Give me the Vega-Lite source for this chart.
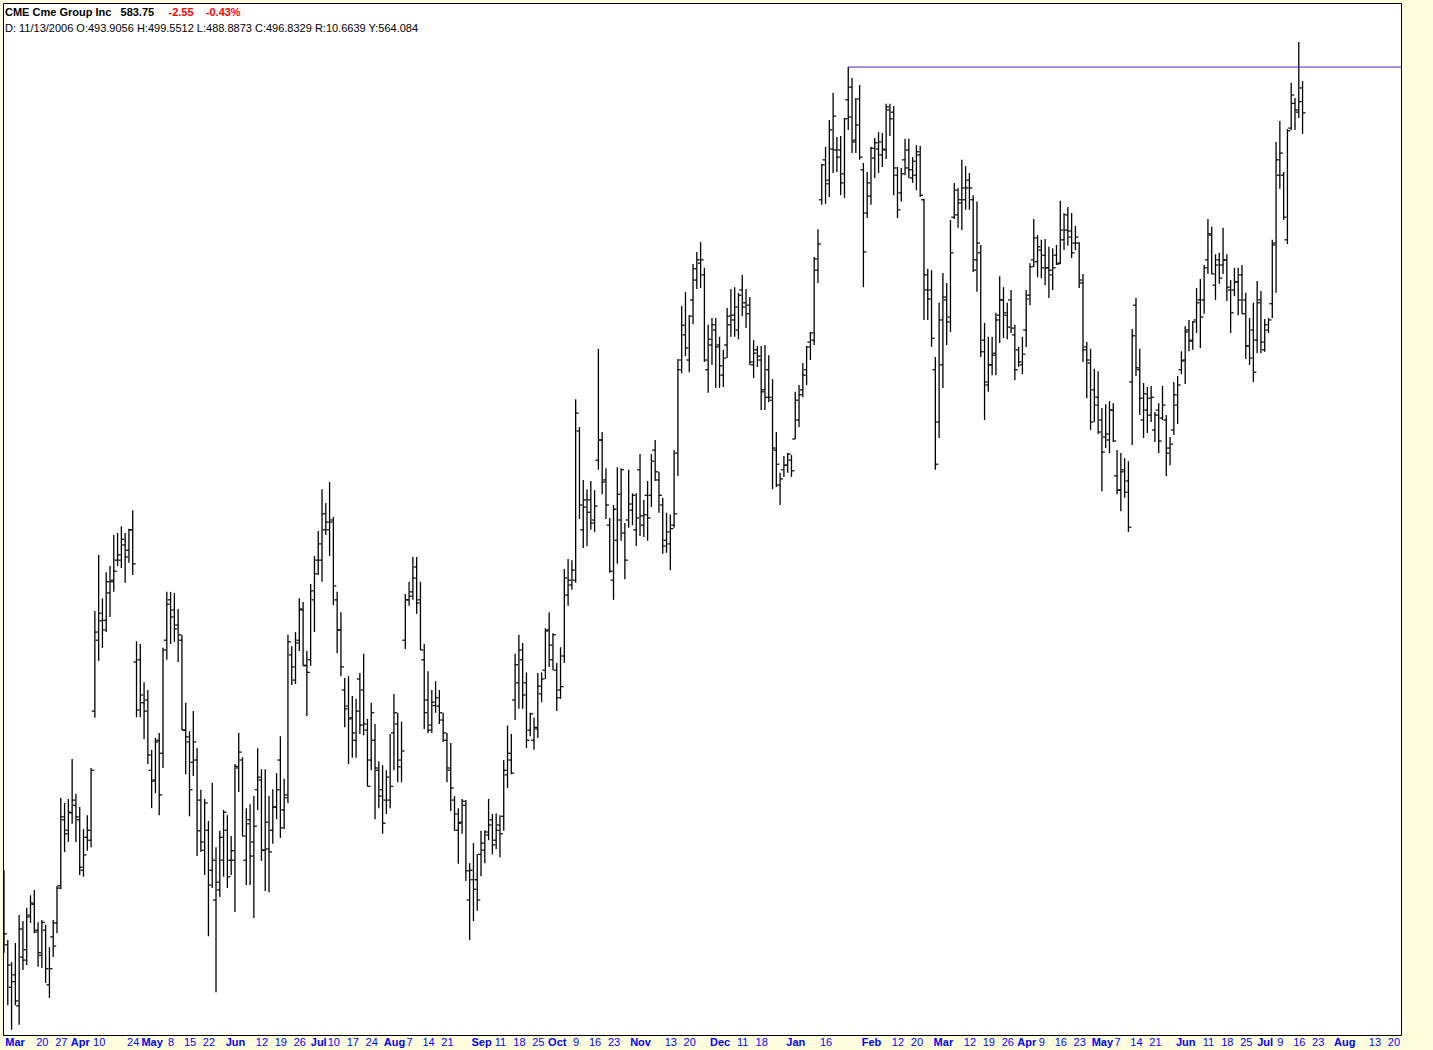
{
"$schema":"https://vega.github.io/schema/vega-lite/v6.json",
"width":1398,"height":1032,
"autosize":{"type":"none"},
"padding":{"left":3,"top":3,"right":32,"bottom":15},
"background":"#FFFFE0",
"view":{"fill":"#FFFFFF","stroke":"#000000","strokeWidth":1},
"title":{"text":"CME Cme Group Inc\u00a0\u00a0\u00a0583.75","subtitle":"D: 11/13/2006 O:493.9056 H:499.5512 L:488.8873 C:496.8329 R:10.6639 Y:564.084","anchor":"start","frame":"group","orient":"top","offset":-31,"dx":2,"font":"Liberation Sans","fontSize":11,"fontWeight":"bold","color":"#000000","subtitleFont":"Liberation Sans","subtitleFontSize":11,"subtitleColor":"#000000","subtitlePadding":5},
"datasets":{
"level":[{"start":224,"end":370,"level":594.2}],
"bars":[
{"t":1,"o":430.2,"h":435.2,"l":421.5,"c":424.6},
{"t":2,"o":422.8,"h":423.6,"l":413.0,"c":419.5},
{"t":3,"o":415.9,"h":420.0,"l":409.1,"c":416.8},
{"t":4,"o":417.9,"h":423.1,"l":413.0,"c":413.7},
{"t":5,"o":412.9,"h":427.7,"l":409.9,"c":425.4},
{"t":6,"o":420.8,"h":426.7,"l":418.7,"c":420.3},
{"t":7,"o":422.0,"h":428.9,"l":419.5,"c":427.4},
{"t":8,"o":427.7,"h":431.0,"l":426.4,"c":429.7},
{"t":9,"o":429.5,"h":431.9,"l":424.7,"c":424.9},
{"t":10,"o":425.2,"h":426.5,"l":419.2,"c":421.5},
{"t":11,"o":421.1,"h":426.9,"l":419.0,"c":426.5},
{"t":12,"o":425.2,"h":426.1,"l":416.6,"c":418.9},
{"t":13,"o":416.3,"h":422.4,"l":414.2,"c":418.9},
{"t":14,"o":424.1,"h":426.9,"l":420.8,"c":422.6},
{"t":15,"o":426.4,"h":432.6,"l":424.7,"c":432.2},
{"t":16,"o":432.6,"h":447.6,"l":432.0,"c":444.3},
{"t":17,"o":443.8,"h":446.7,"l":438.3,"c":441.4},
{"t":18,"o":442.0,"h":447.4,"l":440.0,"c":445.1},
{"t":19,"o":445.0,"h":454.4,"l":443.1,"c":447.2},
{"t":20,"o":446.3,"h":448.3,"l":440.0,"c":444.3},
{"t":21,"o":443.8,"h":446.0,"l":434.4,"c":435.7},
{"t":22,"o":435.2,"h":442.2,"l":434.1,"c":437.8},
{"t":23,"o":440.8,"h":444.6,"l":438.5,"c":442.0},
{"t":24,"o":440.3,"h":452.8,"l":439.1,"c":452.4},
{"t":25,"o":462.9,"h":481.2,"l":461.7,"c":477.3},
{"t":26,"o":475.8,"h":491.8,"l":472.0,"c":480.8},
{"t":27,"o":479.4,"h":483.6,"l":474.4,"c":477.7},
{"t":28,"o":479.5,"h":488.5,"l":477.3,"c":486.7},
{"t":29,"o":484.6,"h":489.7,"l":480.1,"c":486.7},
{"t":30,"o":487.0,"h":495.6,"l":484.8,"c":488.7},
{"t":31,"o":490.8,"h":496.0,"l":489.7,"c":491.8},
{"t":32,"o":490.8,"h":497.3,"l":489.3,"c":494.8},
{"t":33,"o":493.7,"h":496.0,"l":486.5,"c":491.4},
{"t":34,"o":492.7,"h":496.8,"l":490.3,"c":496.6},
{"t":35,"o":496.6,"h":500.4,"l":488.0,"c":490.1},
{"t":36,"o":471.8,"h":475.6,"l":461.8,"c":463.1},
{"t":37,"o":472.2,"h":475.1,"l":461.8,"c":465.8},
{"t":38,"o":464.4,"h":468.1,"l":457.9,"c":462.9},
{"t":39,"o":464.9,"h":466.7,"l":453.5,"c":455.1},
{"t":40,"o":452.4,"h":456.0,"l":445.8,"c":450.5},
{"t":41,"o":450.7,"h":458.1,"l":448.4,"c":457.4},
{"t":42,"o":457.7,"h":459.0,"l":444.6,"c":448.1},
{"t":43,"o":455.4,"h":474.4,"l":452.8,"c":474.0},
{"t":44,"o":475.8,"h":484.8,"l":472.2,"c":482.5},
{"t":45,"o":483.3,"h":484.8,"l":475.1,"c":480.1},
{"t":46,"o":481.4,"h":484.6,"l":475.5,"c":477.9},
{"t":47,"o":478.6,"h":481.6,"l":471.8,"c":476.8},
{"t":48,"o":475.8,"h":476.8,"l":459.5,"c":459.5},
{"t":49,"o":459.5,"h":464.4,"l":451.7,"c":458.3},
{"t":50,"o":457.4,"h":459.3,"l":444.4,"c":449.0},
{"t":51,"o":453.8,"h":462.9,"l":451.4,"c":457.4},
{"t":52,"o":454.2,"h":456.3,"l":437.6,"c":441.9},
{"t":53,"o":447.2,"h":449.0,"l":438.3,"c":440.0},
{"t":54,"o":438.6,"h":447.4,"l":434.4,"c":446.7},
{"t":55,"o":442.0,"h":443.6,"l":424.2,"c":432.7},
{"t":56,"o":435.2,"h":450.2,"l":432.2,"c":436.9},
{"t":57,"o":430.2,"h":439.1,"l":415.1,"c":433.2},
{"t":58,"o":431.9,"h":441.9,"l":430.7,"c":440.8},
{"t":59,"o":436.9,"h":445.5,"l":434.1,"c":445.1},
{"t":60,"o":442.0,"h":444.6,"l":432.2,"c":434.1},
{"t":61,"o":436.9,"h":441.0,"l":434.4,"c":438.5},
{"t":62,"o":436.9,"h":453.5,"l":428.2,"c":453.1},
{"t":63,"o":452.8,"h":459.0,"l":448.6,"c":455.6},
{"t":64,"o":454.2,"h":454.7,"l":441.0,"c":441.0},
{"t":65,"o":436.9,"h":445.8,"l":432.7,"c":443.1},
{"t":66,"o":443.8,"h":446.5,"l":432.7,"c":437.6},
{"t":67,"o":440.0,"h":447.9,"l":427.2,"c":442.7},
{"t":68,"o":449.0,"h":456.3,"l":445.5,"c":451.2},
{"t":69,"o":450.7,"h":452.6,"l":436.8,"c":438.6},
{"t":70,"o":438.6,"h":452.6,"l":431.7,"c":443.4},
{"t":71,"o":438.8,"h":447.9,"l":431.5,"c":438.3},
{"t":72,"o":442.0,"h":449.1,"l":439.7,"c":446.0},
{"t":73,"o":446.0,"h":451.9,"l":443.9,"c":449.0},
{"t":74,"o":454.2,"h":458.4,"l":440.7,"c":442.4},
{"t":75,"o":445.5,"h":450.9,"l":442.2,"c":447.6},
{"t":76,"o":448.1,"h":476.8,"l":446.7,"c":475.5},
{"t":77,"o":473.1,"h":474.7,"l":467.6,"c":470.9},
{"t":78,"o":468.5,"h":477.3,"l":467.8,"c":475.3},
{"t":79,"o":475.8,"h":483.6,"l":473.8,"c":481.6},
{"t":80,"o":481.4,"h":482.9,"l":471.1,"c":471.1},
{"t":81,"o":471.2,"h":473.8,"l":462.0,"c":469.9},
{"t":82,"o":472.2,"h":486.3,"l":471.1,"c":485.0},
{"t":83,"o":483.3,"h":491.6,"l":477.3,"c":488.2},
{"t":84,"o":490.8,"h":496.4,"l":488.0,"c":493.9},
{"t":85,"o":490.8,"h":504.5,"l":486.7,"c":499.7},
{"t":86,"o":496.6,"h":501.8,"l":495.6,"c":498.1},
{"t":87,"o":496.6,"h":505.9,"l":491.6,"c":498.1},
{"t":88,"o":498.5,"h":499.1,"l":482.3,"c":485.9},
{"t":89,"o":483.3,"h":484.8,"l":473.4,"c":477.7},
{"t":90,"o":477.7,"h":481.0,"l":469.2,"c":470.9},
{"t":91,"o":466.7,"h":468.9,"l":460.0,"c":463.3},
{"t":92,"o":463.8,"h":469.2,"l":453.5,"c":461.5},
{"t":93,"o":461.7,"h":465.6,"l":454.6,"c":459.0},
{"t":94,"o":457.7,"h":465.1,"l":454.6,"c":462.9},
{"t":95,"o":468.7,"h":469.8,"l":458.8,"c":460.4},
{"t":96,"o":466.7,"h":473.3,"l":458.6,"c":460.6},
{"t":97,"o":459.5,"h":461.5,"l":449.6,"c":449.6},
{"t":98,"o":454.2,"h":464.4,"l":452.4,"c":462.6},
{"t":99,"o":457.7,"h":460.6,"l":443.9,"c":452.8},
{"t":100,"o":452.4,"h":454.0,"l":445.8,"c":447.9},
{"t":101,"o":449.0,"h":453.3,"l":441.4,"c":443.2},
{"t":102,"o":447.2,"h":452.4,"l":444.8,"c":451.2},
{"t":103,"o":447.2,"h":458.8,"l":445.8,"c":449.6},
{"t":104,"o":459.0,"h":466.0,"l":452.4,"c":462.6},
{"t":105,"o":460.6,"h":462.6,"l":450.3,"c":453.0},
{"t":106,"o":454.2,"h":461.0,"l":450.3,"c":455.8},
{"t":107,"o":475.8,"h":484.4,"l":474.2,"c":483.3},
{"t":108,"o":483.3,"h":486.7,"l":482.2,"c":484.0},
{"t":109,"o":484.8,"h":491.4,"l":483.3,"c":487.4},
{"t":110,"o":489.5,"h":491.4,"l":480.7,"c":482.7},
{"t":111,"o":483.3,"h":486.7,"l":474.0,"c":474.0},
{"t":112,"o":472.2,"h":475.1,"l":459.7,"c":462.6},
{"t":113,"o":464.9,"h":470.1,"l":459.0,"c":459.5},
{"t":114,"o":460.4,"h":466.7,"l":459.0,"c":464.5},
{"t":115,"o":463.9,"h":468.3,"l":462.6,"c":465.3},
{"t":116,"o":463.8,"h":466.7,"l":460.6,"c":462.6},
{"t":117,"o":461.3,"h":462.6,"l":457.4,"c":459.0},
{"t":118,"o":457.7,"h":459.0,"l":450.3,"c":452.8},
{"t":119,"o":452.4,"h":457.2,"l":445.3,"c":449.3},
{"t":120,"o":447.2,"h":447.9,"l":441.9,"c":444.8},
{"t":121,"o":442.0,"h":445.8,"l":436.3,"c":443.2},
{"t":122,"o":443.4,"h":447.4,"l":441.4,"c":447.0},
{"t":123,"o":446.3,"h":447.2,"l":433.4,"c":435.1},
{"t":124,"o":430.2,"h":436.4,"l":423.6,"c":435.2},
{"t":125,"o":433.6,"h":439.8,"l":426.7,"c":432.0},
{"t":126,"o":433.6,"h":437.9,"l":428.4,"c":430.2},
{"t":127,"o":437.9,"h":441.9,"l":434.2,"c":439.8},
{"t":128,"o":438.6,"h":442.0,"l":436.4,"c":441.7},
{"t":129,"o":441.2,"h":447.4,"l":440.3,"c":442.9},
{"t":130,"o":443.8,"h":444.8,"l":437.9,"c":439.5},
{"t":131,"o":440.3,"h":444.9,"l":438.8,"c":442.0},
{"t":132,"o":442.9,"h":444.6,"l":437.4,"c":441.4},
{"t":133,"o":444.4,"h":454.2,"l":441.9,"c":452.4},
{"t":134,"o":451.6,"h":460.3,"l":449.3,"c":455.4},
{"t":135,"o":454.2,"h":458.8,"l":451.7,"c":451.9},
{"t":136,"o":464.9,"h":473.3,"l":461.3,"c":471.3},
{"t":137,"o":468.0,"h":476.8,"l":463.3,"c":474.0},
{"t":138,"o":472.2,"h":475.3,"l":463.3,"c":465.8},
{"t":139,"o":468.0,"h":469.9,"l":456.3,"c":457.7},
{"t":140,"o":459.5,"h":462.6,"l":458.4,"c":462.4},
{"t":141,"o":457.7,"h":461.7,"l":456.0,"c":460.0},
{"t":142,"o":459.7,"h":469.8,"l":458.1,"c":467.4},
{"t":143,"o":466.0,"h":469.9,"l":464.5,"c":468.7},
{"t":144,"o":470.3,"h":478.0,"l":468.7,"c":477.5},
{"t":145,"o":477.7,"h":481.0,"l":470.9,"c":474.9},
{"t":146,"o":472.2,"h":477.1,"l":470.3,"c":476.8},
{"t":147,"o":470.3,"h":471.6,"l":462.9,"c":465.3},
{"t":148,"o":466.7,"h":474.5,"l":465.1,"c":467.3},
{"t":149,"o":472.9,"h":489.1,"l":471.6,"c":487.4},
{"t":150,"o":484.2,"h":491.0,"l":482.2,"c":487.0},
{"t":151,"o":486.1,"h":490.8,"l":485.2,"c":488.9},
{"t":152,"o":487.0,"h":522.4,"l":486.5,"c":519.6},
{"t":153,"o":516.0,"h":516.8,"l":498.7,"c":501.4},
{"t":154,"o":496.6,"h":506.3,"l":493.1,"c":501.0},
{"t":155,"o":502.4,"h":504.5,"l":493.5,"c":500.0},
{"t":156,"o":502.4,"h":506.1,"l":496.6,"c":497.9},
{"t":157,"o":498.5,"h":504.3,"l":496.2,"c":501.2},
{"t":158,"o":510.2,"h":532.7,"l":508.3,"c":514.2},
{"t":159,"o":514.2,"h":515.8,"l":503.5,"c":505.9},
{"t":160,"o":506.3,"h":508.6,"l":498.7,"c":501.4},
{"t":161,"o":497.5,"h":498.9,"l":488.4,"c":488.7},
{"t":162,"o":487.0,"h":501.4,"l":483.3,"c":500.6},
{"t":163,"o":494.6,"h":508.8,"l":490.1,"c":503.5},
{"t":164,"o":498.5,"h":508.6,"l":494.5,"c":508.3},
{"t":165,"o":496.0,"h":497.9,"l":487.2,"c":490.8},
{"t":166,"o":498.5,"h":508.3,"l":497.0,"c":501.6},
{"t":167,"o":500.4,"h":503.7,"l":497.5,"c":503.3},
{"t":168,"o":496.6,"h":503.7,"l":493.5,"c":498.9},
{"t":169,"o":508.3,"h":511.4,"l":495.4,"c":499.3},
{"t":170,"o":497.5,"h":502.4,"l":495.2,"c":499.5},
{"t":171,"o":503.3,"h":506.1,"l":494.5,"c":498.9},
{"t":172,"o":503.3,"h":511.4,"l":501.0,"c":510.0},
{"t":173,"o":512.2,"h":514.2,"l":506.1,"c":507.9},
{"t":174,"o":506.3,"h":507.9,"l":499.9,"c":503.3},
{"t":175,"o":501.4,"h":502.8,"l":492.0,"c":493.5},
{"t":176,"o":494.6,"h":499.9,"l":492.2,"c":496.2},
{"t":177,"o":493.9056,"h":499.5512,"l":488.8873,"c":496.8329},
{"t":178,"o":497.5,"h":512.2,"l":497.0,"c":499.7},
{"t":179,"o":511.6,"h":530.6,"l":507.1,"c":528.4},
{"t":180,"o":530.4,"h":541.6,"l":527.7,"c":537.6},
{"t":181,"o":535.6,"h":544.6,"l":531.2,"c":532.9},
{"t":182,"o":530.4,"h":539.7,"l":527.9,"c":539.5},
{"t":183,"o":542.9,"h":550.5,"l":537.8,"c":549.5},
{"t":184,"o":547.1,"h":553.1,"l":545.2,"c":551.4},
{"t":185,"o":550.7,"h":555.2,"l":545.4,"c":551.4},
{"t":186,"o":548.2,"h":549.7,"l":530.0,"c":530.4},
{"t":187,"o":528.4,"h":537.7,"l":523.7,"c":534.7},
{"t":188,"o":533.5,"h":539.1,"l":529.4,"c":537.7},
{"t":189,"o":536.6,"h":539.1,"l":524.7,"c":533.1},
{"t":190,"o":533.5,"h":535.2,"l":524.7,"c":529.2},
{"t":191,"o":527.3,"h":532.5,"l":524.9,"c":530.8},
{"t":192,"o":533.5,"h":541.2,"l":530.8,"c":539.5},
{"t":193,"o":537.7,"h":545.2,"l":535.2,"c":539.7},
{"t":194,"o":538.7,"h":545.6,"l":535.2,"c":541.4},
{"t":195,"o":536.6,"h":544.4,"l":534.7,"c":543.9},
{"t":196,"o":545.0,"h":548.2,"l":539.5,"c":541.4},
{"t":197,"o":542.3,"h":545.2,"l":537.0,"c":540.0},
{"t":198,"o":541.8,"h":543.5,"l":529.4,"c":530.0},
{"t":199,"o":529.4,"h":534.5,"l":526.7,"c":531.8},
{"t":200,"o":532.5,"h":533.3,"l":529.0,"c":531.2},
{"t":201,"o":530.4,"h":533.3,"l":520.2,"c":523.9},
{"t":202,"o":524.3,"h":533.5,"l":520.2,"c":522.8},
{"t":203,"o":528.4,"h":531.4,"l":521.8,"c":522.8},
{"t":204,"o":522.2,"h":526.5,"l":504.5,"c":512.6},
{"t":205,"o":512.2,"h":515.8,"l":504.9,"c":509.4},
{"t":206,"o":505.3,"h":507.7,"l":501.4,"c":506.5},
{"t":207,"o":508.3,"h":511.0,"l":506.9,"c":509.2},
{"t":208,"o":509.2,"h":511.6,"l":507.7,"c":511.4},
{"t":209,"o":510.2,"h":511.2,"l":506.9,"c":508.1},
{"t":210,"o":514.4,"h":523.9,"l":514.4,"c":522.2},
{"t":211,"o":518.2,"h":525.3,"l":516.8,"c":523.3},
{"t":212,"o":524.3,"h":529.8,"l":522.8,"c":527.3},
{"t":213,"o":528.4,"h":533.3,"l":525.3,"c":533.1},
{"t":214,"o":534.1,"h":536.2,"l":530.4,"c":536.0},
{"t":215,"o":534.5,"h":552.0,"l":533.5,"c":551.6},
{"t":216,"o":549.2,"h":558.0,"l":546.5,"c":554.8},
{"t":217,"o":564.4,"h":572.3,"l":563.3,"c":572.1},
{"t":218,"o":573.2,"h":576.1,"l":563.5,"c":567.9},
{"t":219,"o":568.7,"h":582.1,"l":565.0,"c":579.9},
{"t":220,"o":575.6,"h":588.3,"l":570.3,"c":583.0},
{"t":221,"o":575.4,"h":578.3,"l":570.5,"c":573.8},
{"t":222,"o":575.4,"h":578.5,"l":565.4,"c":568.1},
{"t":223,"o":570.1,"h":582.6,"l":564.8,"c":582.4},
{"t":224,"o":586.7,"h":594.2,"l":579.9,"c":582.8},
{"t":225,"o":589.6,"h":591.7,"l":574.7,"c":577.2},
{"t":226,"o":577.6,"h":587.1,"l":574.7,"c":581.0},
{"t":227,"o":586.9,"h":590.1,"l":573.2,"c":573.8},
{"t":228,"o":571.0,"h":572.5,"l":545.6,"c":553.1},
{"t":229,"o":561.5,"h":570.5,"l":560.4,"c":568.1},
{"t":230,"o":565.2,"h":576.1,"l":563.3,"c":575.8},
{"t":231,"o":573.6,"h":578.1,"l":569.2,"c":577.0},
{"t":232,"o":575.6,"h":579.4,"l":570.3,"c":577.2},
{"t":233,"o":574.3,"h":579.2,"l":571.6,"c":575.6},
{"t":234,"o":575.4,"h":585.8,"l":573.4,"c":585.1},
{"t":235,"o":584.4,"h":585.8,"l":578.5,"c":582.4},
{"t":236,"o":583.9,"h":585.3,"l":565.4,"c":571.4},
{"t":237,"o":569.8,"h":571.6,"l":560.4,"c":562.2},
{"t":238,"o":565.9,"h":571.4,"l":564.0,"c":570.1},
{"t":239,"o":573.2,"h":577.9,"l":569.8,"c":571.4},
{"t":240,"o":575.4,"h":577.9,"l":569.2,"c":571.0},
{"t":241,"o":569.2,"h":573.8,"l":568.1,"c":572.9},
{"t":242,"o":569.8,"h":576.5,"l":566.5,"c":575.0},
{"t":243,"o":574.3,"h":576.3,"l":565.0,"c":565.4},
{"t":244,"o":564.4,"h":564.6,"l":538.7,"c":548.2},
{"t":245,"o":545.0,"h":549.5,"l":538.7,"c":543.1},
{"t":246,"o":545.0,"h":549.2,"l":533.1,"c":534.9},
{"t":247,"o":528.4,"h":531.0,"l":508.3,"c":509.4},
{"t":248,"o":517.8,"h":542.3,"l":514.6,"c":538.7},
{"t":249,"o":529.4,"h":548.6,"l":524.7,"c":543.5},
{"t":250,"o":542.9,"h":546.5,"l":533.5,"c":538.3},
{"t":251,"o":539.3,"h":560.0,"l":536.2,"c":552.9},
{"t":252,"o":560.6,"h":568.1,"l":560.2,"c":566.5},
{"t":253,"o":561.1,"h":567.0,"l":558.3,"c":563.7},
{"t":254,"o":564.4,"h":573.2,"l":557.8,"c":567.0},
{"t":255,"o":564.4,"h":571.8,"l":562.2,"c":567.0},
{"t":256,"o":568.7,"h":570.3,"l":562.2,"c":567.0},
{"t":257,"o":564.4,"h":565.4,"l":548.8,"c":549.2},
{"t":258,"o":551.4,"h":564.0,"l":544.6,"c":555.0},
{"t":259,"o":552.9,"h":554.6,"l":531.0,"c":532.1},
{"t":260,"o":534.5,"h":538.1,"l":518.2,"c":525.9},
{"t":261,"o":525.3,"h":535.2,"l":523.9,"c":529.4},
{"t":262,"o":529.4,"h":535.2,"l":527.3,"c":531.4},
{"t":263,"o":531.8,"h":540.2,"l":527.3,"c":538.7},
{"t":264,"o":539.7,"h":547.9,"l":533.9,"c":542.9},
{"t":265,"o":542.9,"h":545.6,"l":534.9,"c":540.2},
{"t":266,"o":539.7,"h":542.3,"l":534.7,"c":537.2},
{"t":267,"o":542.9,"h":545.0,"l":536.0,"c":537.0},
{"t":268,"o":535.6,"h":537.7,"l":526.3,"c":528.4},
{"t":269,"o":532.5,"h":533.1,"l":529.0,"c":530.0},
{"t":270,"o":529.4,"h":535.2,"l":527.5,"c":531.6},
{"t":271,"o":536.6,"h":545.0,"l":533.1,"c":543.1},
{"t":272,"o":543.9,"h":550.7,"l":541.8,"c":549.9},
{"t":273,"o":551.4,"h":560.2,"l":549.9,"c":556.1},
{"t":274,"o":551.0,"h":556.7,"l":547.7,"c":554.2},
{"t":275,"o":553.5,"h":555.7,"l":547.5,"c":549.7},
{"t":276,"o":552.4,"h":555.9,"l":546.0,"c":549.7},
{"t":277,"o":549.7,"h":554.2,"l":543.3,"c":549.2},
{"t":278,"o":548.2,"h":553.9,"l":545.0,"c":549.7},
{"t":279,"o":552.4,"h":554.6,"l":550.3,"c":550.5},
{"t":280,"o":550.7,"h":564.2,"l":550.5,"c":557.8},
{"t":281,"o":555.7,"h":561.5,"l":553.5,"c":557.8},
{"t":282,"o":561.1,"h":562.8,"l":554.4,"c":557.6},
{"t":283,"o":556.3,"h":561.5,"l":551.8,"c":552.9},
{"t":284,"o":555.0,"h":558.7,"l":553.5,"c":556.3},
{"t":285,"o":555.0,"h":555.2,"l":545.4,"c":547.1},
{"t":286,"o":546.5,"h":548.4,"l":530.0,"c":532.5},
{"t":287,"o":533.1,"h":534.1,"l":522.6,"c":530.4},
{"t":288,"o":529.8,"h":532.7,"l":516.2,"c":517.8},
{"t":289,"o":524.3,"h":528.6,"l":517.8,"c":521.2},
{"t":290,"o":522.8,"h":528.1,"l":515.4,"c":515.8},
{"t":291,"o":518.2,"h":520.6,"l":504.1,"c":511.8},
{"t":292,"o":514.8,"h":521.4,"l":512.6,"c":515.4},
{"t":293,"o":514.2,"h":522.0,"l":511.6,"c":520.2},
{"t":294,"o":520.2,"h":521.6,"l":513.8,"c":514.0},
{"t":295,"o":507.1,"h":512.2,"l":503.5,"c":504.3},
{"t":296,"o":504.3,"h":511.6,"l":500.2,"c":507.9},
{"t":297,"o":508.3,"h":510.6,"l":502.8,"c":503.9},
{"t":298,"o":506.1,"h":510.0,"l":496.2,"c":497.1},
{"t":299,"o":525.9,"h":536.8,"l":513.2,"c":535.4},
{"t":300,"o":541.8,"h":543.3,"l":527.1,"c":528.8},
{"t":301,"o":528.4,"h":532.7,"l":519.2,"c":522.6},
{"t":302,"o":518.2,"h":525.7,"l":514.6,"c":523.5},
{"t":303,"o":520.2,"h":524.9,"l":515.6,"c":522.6},
{"t":304,"o":519.2,"h":525.1,"l":517.8,"c":522.8},
{"t":305,"o":516.2,"h":519.8,"l":513.8,"c":519.2},
{"t":306,"o":520.2,"h":521.6,"l":511.6,"c":514.0},
{"t":307,"o":518.6,"h":525.1,"l":518.2,"c":521.2},
{"t":308,"o":518.2,"h":519.2,"l":507.1,"c":511.6},
{"t":309,"o":512.6,"h":514.8,"l":509.2,"c":513.4},
{"t":310,"o":516.2,"h":525.9,"l":515.2,"c":523.3},
{"t":311,"o":521.2,"h":527.1,"l":517.4,"c":525.3},
{"t":312,"o":528.4,"h":532.2,"l":527.5,"c":530.2},
{"t":313,"o":530.4,"h":537.4,"l":525.5,"c":536.2},
{"t":314,"o":536.6,"h":538.7,"l":532.2,"c":534.3},
{"t":315,"o":534.5,"h":538.5,"l":532.5,"c":538.3},
{"t":316,"o":538.7,"h":545.4,"l":536.0,"c":542.3},
{"t":317,"o":542.9,"h":547.3,"l":532.9,"c":539.3},
{"t":318,"o":542.9,"h":550.3,"l":540.0,"c":549.7},
{"t":319,"o":551.4,"h":560.2,"l":548.4,"c":557.0},
{"t":320,"o":556.7,"h":558.5,"l":548.4,"c":548.4},
{"t":321,"o":546.0,"h":552.6,"l":542.9,"c":550.3},
{"t":322,"o":551.4,"h":552.9,"l":546.3,"c":547.5},
{"t":323,"o":550.3,"h":558.3,"l":548.4,"c":551.4},
{"t":324,"o":551.4,"h":552.6,"l":542.7,"c":545.6},
{"t":325,"o":545.0,"h":547.1,"l":536.0,"c":540.2},
{"t":326,"o":545.0,"h":549.7,"l":543.7,"c":546.7},
{"t":327,"o":546.7,"h":549.7,"l":539.7,"c":542.9},
{"t":328,"o":548.2,"h":550.3,"l":540.0,"c":540.0},
{"t":329,"o":542.9,"h":544.4,"l":530.6,"c":533.3},
{"t":330,"o":533.3,"h":539.1,"l":529.4,"c":530.8},
{"t":331,"o":536.6,"h":542.3,"l":525.9,"c":527.9},
{"t":332,"o":534.5,"h":546.9,"l":531.8,"c":542.3},
{"t":333,"o":542.9,"h":544.8,"l":531.8,"c":534.1},
{"t":334,"o":532.5,"h":538.9,"l":532.1,"c":537.7},
{"t":335,"o":536.6,"h":539.1,"l":536.0,"c":538.7},
{"t":336,"o":542.1,"h":555.7,"l":539.1,"c":554.6},
{"t":337,"o":555.0,"h":577.2,"l":544.4,"c":573.2},
{"t":338,"o":569.8,"h":581.9,"l":566.8,"c":574.7},
{"t":339,"o":569.8,"h":570.5,"l":560.0,"c":560.6},
{"t":340,"o":555.7,"h":580.1,"l":554.8,"c":579.7},
{"t":341,"o":580.3,"h":590.6,"l":579.9,"c":587.8},
{"t":342,"o":585.9,"h":587.1,"l":579.9,"c":584.4},
{"t":343,"o":583.9,"h":600.0,"l":582.6,"c":586.3},
{"t":344,"o":589.4,"h":591.0,"l":579.0,"c":583.75}
]},
"resolve":{"axis":{"x":"independent"}},
"layer":[
{"data":{"name":"bars"},
 "mark":{"type":"rule","color":"#000000","strokeWidth":1.3,"clip":true},
 "encoding":{
  "x":{"field":"t","type":"quantitative","scale":{"domain":[0.736,370],"nice":false,"zero":false},
   "axis":{"orient":"bottom","values":[3.8,11,16,21,26,35,40,45,50,55,62,69,74,79,84,88,93,98,104,108,113,118,127,132,137,142,147,152,157,162,169,177,182,190,196,201,210,218,230,237,242,249,256,261,266,271,275,280,285,291,295,300,305,313,319,324,329,334,338,343,348,355,363,368],
   "labelExpr":"{'3.8':'Mar','11':'20','16':'27','21':'Apr','26':'10','35':'24','40':'May','45':'8','50':'15','55':'22','62':'Jun','69':'12','74':'19','79':'26','84':'Jul','88':'10','93':'17','98':'24','104':'Aug','108':'7','113':'14','118':'21','127':'Sep','132':'11','137':'18','142':'25','147':'Oct','152':'9','157':'16','162':'23','169':'Nov','177':'13','182':'20','190':'Dec','196':'11','201':'18','210':'Jan','218':'16','230':'Feb','237':'12','242':'20','249':'Mar','256':'12','261':'19','266':'26','271':'Apr','275':'9','280':'16','285':'23','291':'May','295':'7','300':'14','305':'21','313':'Jun','319':'11','324':'18','329':'25','334':'Jul','338':'9','343':'16','348':'23','355':'Aug','363':'13','368':'20'}[''+datum.value]",
   "labelFontWeight":{"condition":{"test":"indexof([3.8,21,40,62,84,104,127,147,169,190,210,230,249,271,291,313,334,355], datum.value) >= 0","value":"bold"},"value":"normal"},
   "labelColor":"#0000FF","labelFont":"Liberation Sans","labelFontSize":11,"labelAlign":"center","labelBaseline":"top","labelPadding":1,
   "ticks":false,"tickSize":0,"domain":false,"grid":false,"title":null,"labelOverlap":false,"labelBound":false,"labelFlush":false}},
  "y":{"field":"l","type":"quantitative","scale":{"type":"log","domain":[408.27,609.14],"nice":false,"zero":false},
   "axis":{"orient":"right","values":[410,415,420,425,430,435,440,445,450,455,460,465,470,475,480,485,490,495,500,505,510,515,520,525,530,535,540,545,550,555,560,565,570,575,580,585,590,595,600],"format":"d",
   "labelColor":"#FF0000","labelFont":"Liberation Sans","labelFontSize":11,"labelPadding":1,"tickSize":3,"tickColor":"#990000","domain":false,"grid":false,"title":null,"labelOverlap":false,"labelBound":false,"labelFlush":false}},
  "y2":{"field":"h"}}},
{"data":{"name":"bars"},
 "mark":{"type":"tick","orient":"horizontal","size":3,"thickness":1.2,"xOffset":-1.5,"color":"#000000","opacity":1,"clip":true},
 "encoding":{"x":{"field":"t","type":"quantitative","axis":null},"y":{"field":"o","type":"quantitative","axis":null}}},
{"data":{"name":"bars"},
 "mark":{"type":"tick","orient":"horizontal","size":3,"thickness":1.2,"xOffset":1.5,"color":"#000000","opacity":1,"clip":true},
 "encoding":{"x":{"field":"t","type":"quantitative","axis":null},"y":{"field":"c","type":"quantitative","axis":null}}},
{"data":{"name":"level"},
 "mark":{"type":"rule","color":"#4F1FC8","strokeWidth":1,"clip":true},
 "encoding":{
  "x":{"field":"start","type":"quantitative","axis":{"orient":"top","labels":false,"ticks":false,"domain":false,"grid":false,"title":"-2.55\u00a0\u00a0\u00a0\u00a0-0.43%","titleColor":"#FF0000","titleFont":"Liberation Sans","titleFontSize":11,"titleFontWeight":"bold","titleAnchor":"start","titleAlign":"left","titleBaseline":"alphabetic","titleX":165,"titleY":12}},
  "x2":{"field":"end"},
  "y":{"field":"level","type":"quantitative","axis":null}}}
]
}
